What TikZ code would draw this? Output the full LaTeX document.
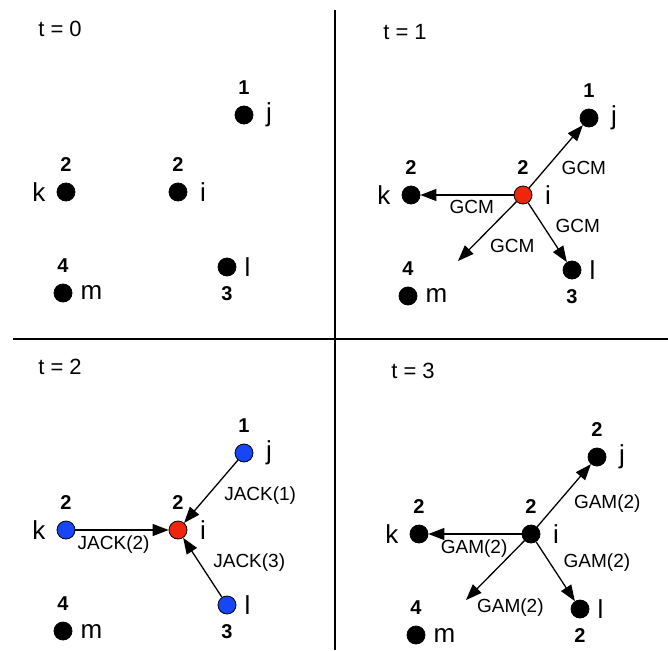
\documentclass[tikz,border=0pt]{standalone}
\usepackage{fontspec}
\setmainfont{Liberation Sans}
\usetikzlibrary{arrows.meta}
\definecolor{nodered}{RGB}{240,38,12}
\definecolor{nodeblue}{RGB}{22,70,245}

\begin{document}
\begin{tikzpicture}[x=1pt, y=-1pt, ->, >={Triangle[length=16pt,width=12pt]}, line width=1.3pt,
  agent/.style={circle, draw=black, line width=0.8pt, fill=black, minimum size=18pt, inner sep=0pt},
  num/.style={font=\bfseries\fontsize{20}{24}\selectfont, inner sep=0pt, label distance=10pt},
  ltr/.style={font=\fontsize{26}{30}\selectfont, inner sep=0pt, label distance=12pt},
  msg/.style={font=\fontsize{19}{22}\selectfont, inner xsep=4pt, inner ysep=5pt},
  tlabel/.style={font=\fontsize{22}{26}\selectfont}]

  \useasboundingbox (0,0) rectangle (668,650);

  % frame
  \draw[-, line width=2pt] (335,10) -- (335,650);
  \draw[-, line width=2pt] (13,339) -- (668,339);

  % t = 0
  \node[tlabel] (t0) at (60,29) {t = 0};
  \node[agent, label={[num]90:1}, label={[ltr]0:j}] (j1) at (244,115) {};
  \node[agent, label={[num]90:2}, label={[ltr, label distance=10.5pt]180:k}] (k1) at (66,192) {};
  \node[agent, label={[num]90:2}, label={[ltr]0:i}] (i1) at (178,192) {};
  \node[agent, label={[num, label distance=9pt]-90:3}, label={[ltr, label distance=7.5pt]0:l}] (l1) at (227,267) {};
  \node[agent, label={[num]90:4}, label={[ltr, label distance=7.5pt]0:m}] (m1) at (63,293) {};

  % t = 1
  \begin{scope}[shift={(345,3)}]
    \node[tlabel] (t1) at (60,29) {t = 1};
    \node[agent, label={[num]90:1}, label={[ltr]0:j}] (j2) at (244,115) {};
    \node[agent, label={[num]90:2}, label={[ltr, label distance=10.5pt]180:k}] (k2) at (66,192) {};
    \node[agent, fill=nodered, label={[num]90:2}, label={[ltr]0:i}] (i2) at (178,192) {};
    \node[agent, label={[num, label distance=9pt]-90:3}, label={[ltr, label distance=7.5pt]0:l}] (l2) at (227,267) {};
    \node[agent, label={[num]90:4}, label={[ltr, label distance=7.5pt]0:m}] (m2) at (63,293) {};
    \coordinate (f2) at (113,258);

    \path
      (i2) edge node[msg, pos=0.52, anchor=north west] {GCM} (j2)
      (i2) edge node[msg, pos=0.45, anchor=north] {GCM} (k2)
      (i2) edge node[msg, pos=0.53, anchor=north west] {GCM} (f2)
      (i2) edge node[msg, pos=0.59, anchor=south west] {GCM} (l2)
    ;
  \end{scope}

  % t = 2
  \begin{scope}[shift={(0,338)}]
    \node[tlabel] (t2) at (60,29) {t = 2};
    \node[agent, fill=nodeblue, label={[num]90:1}, label={[ltr]0:j}] (j3) at (244,115) {};
    \node[agent, fill=nodeblue, label={[num]90:2}, label={[ltr, label distance=10.5pt]180:k}] (k3) at (66,192) {};
    \node[agent, fill=nodered, label={[num]90:2}, label={[ltr]0:i}] (i3) at (178,192) {};
    \node[agent, fill=nodeblue, label={[num, label distance=9pt]-90:3}, label={[ltr, label distance=7.5pt]0:l}] (l3) at (227,267) {};
    \node[agent, label={[num]90:4}, label={[ltr, label distance=7.5pt]0:m}] (m3) at (63,293) {};

    \path
      (j3) edge node[msg, pos=0.34, anchor=north west] {JACK(1)} (i3)
      (k3) edge node[msg, pos=0.41, anchor=north] {JACK(2)} (i3)
      (l3) edge node[msg, pos=0.34, anchor=south west] {JACK(3)} (i3)
    ;
  \end{scope}

  % t = 3
  \begin{scope}[shift={(353,342)}]
    \node[tlabel] (t3) at (60,29) {t = 3};
    \node[agent, label={[num]90:2}, label={[ltr]0:j}] (j4) at (244,115) {};
    \node[agent, label={[num]90:2}, label={[ltr, label distance=10.5pt]180:k}] (k4) at (66,192) {};
    \node[agent, label={[num]90:2}, label={[ltr]0:i}] (i4) at (178,192) {};
    \node[agent, label={[num, label distance=9pt]-90:2}, label={[ltr, label distance=7.5pt]0:l}] (l4) at (227,267) {};
    \node[agent, label={[num]90:4}, label={[ltr, label distance=7.5pt]0:m}] (m4) at (63,293) {};
    \coordinate (f4) at (113,258);

    \path
      (i4) edge node[msg, pos=0.6, anchor=north west] {GAM(2)} (j4)
      (i4) edge node[msg, pos=0.51, anchor=north] {GAM(2)} (k4)
      (i4) edge node[msg, pos=0.89, anchor=north west] {GAM(2)} (f4)
      (i4) edge node[msg, pos=0.59, anchor=south west] {GAM(2)} (l4)
    ;
  \end{scope}
\end{tikzpicture}
\end{document}
